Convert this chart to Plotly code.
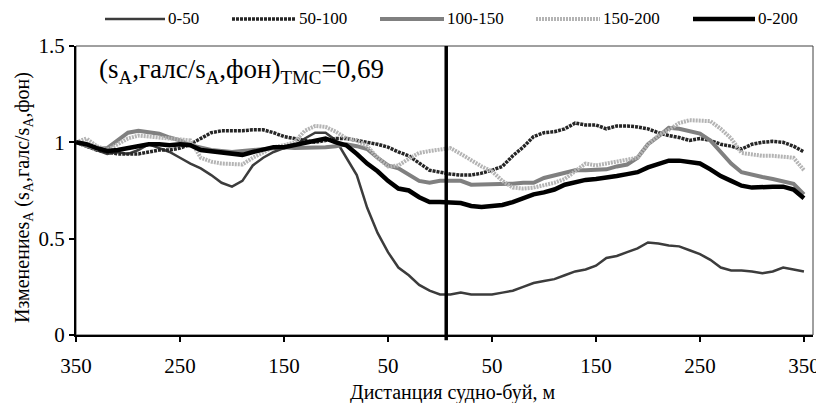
import plotly.graph_objects as go

# ---- data ----
distance = [-350, -340, -330, -320, -310, -300, -290, -280, -270, -260,
            -250, -240, -230, -220, -210, -200, -190, -180, -170, -160,
            -150, -140, -130, -120, -110, -100, -90, -80, -70, -60,
            -50, -40, -30, -20, -10, 0, 10, 20, 30, 40,
            50, 60, 70, 80, 90, 100, 110, 120, 130, 140,
            150, 160, 170, 180, 190, 200, 210, 220, 230, 240,
            250, 260, 270, 280, 290, 300, 310, 320, 330, 340, 350]

s_0_50 = [1.00, 0.98, 0.96, 0.94, 0.95, 0.94, 0.96, 0.99, 0.97, 0.95,
          0.92, 0.89, 0.865, 0.83, 0.79, 0.77, 0.80, 0.88, 0.92, 0.95,
          0.97, 0.98, 1.02, 1.05, 1.05, 1.01, 0.92, 0.83, 0.66, 0.53,
          0.43, 0.35, 0.31, 0.26, 0.23, 0.21, 0.21, 0.22, 0.21, 0.21,
          0.21, 0.22, 0.23, 0.25, 0.27, 0.28, 0.29, 0.31, 0.33, 0.34,
          0.36, 0.40, 0.41, 0.43, 0.45, 0.48, 0.475, 0.465, 0.46, 0.44,
          0.42, 0.39, 0.35, 0.335, 0.335, 0.33, 0.32, 0.33, 0.35, 0.34, 0.33]

s_50_100 = [1.00, 0.98, 0.96, 0.95, 0.94, 0.94, 0.94, 0.95, 0.96, 0.96,
            0.97, 0.99, 1.02, 1.05, 1.06, 1.06, 1.06, 1.065, 1.065, 1.05,
            1.03, 1.02, 1.01, 1.00, 1.01, 1.02, 1.02, 1.01, 1.00, 0.99,
            0.975, 0.95, 0.93, 0.89, 0.855, 0.845, 0.835, 0.83, 0.83, 0.84,
            0.855, 0.875, 0.93, 0.975, 1.03, 1.05, 1.055, 1.07, 1.10, 1.09,
            1.09, 1.07, 1.085, 1.085, 1.08, 1.07, 1.05, 1.035, 1.025, 1.01,
            1.02, 1.01, 0.99, 0.98, 0.965, 0.99, 1.00, 1.005, 1.00, 0.98, 0.95]

s_100_150 = [1.00, 0.98, 0.965, 0.97, 1.01, 1.05, 1.06, 1.05, 1.045, 1.025,
             1.01, 0.985, 0.97, 0.96, 0.955, 0.95, 0.955, 0.96, 0.965, 0.97,
             0.975, 0.97, 0.97, 0.975, 0.975, 0.98, 0.99, 0.98, 0.965, 0.92,
             0.88, 0.865, 0.83, 0.80, 0.79, 0.80, 0.80, 0.80, 0.78, 0.78,
             0.78, 0.78, 0.785, 0.79, 0.79, 0.815, 0.83, 0.845, 0.855, 0.855,
             0.855, 0.86, 0.875, 0.885, 0.92, 0.99, 1.03, 1.075, 1.07, 1.06,
             1.045, 1.01, 0.95, 0.89, 0.845, 0.83, 0.82, 0.81, 0.80, 0.785, 0.73]

s_150_200 = [1.00, 1.02, 0.98, 0.96, 0.99, 1.02, 1.035, 1.03, 1.03, 1.025,
             1.02, 1.01, 0.92, 0.90, 0.89, 0.89, 0.885, 0.92, 0.95, 0.975,
             0.985, 1.00, 1.06, 1.085, 1.08, 1.055, 1.02, 1.01, 0.98, 0.92,
             0.875, 0.88, 0.915, 0.945, 0.955, 0.965, 0.97, 0.94, 0.905, 0.875,
             0.85, 0.80, 0.765, 0.76, 0.765, 0.775, 0.79, 0.81, 0.85, 0.89,
             0.88, 0.89, 0.895, 0.905, 0.92, 0.99, 1.035, 1.065, 1.10, 1.115,
             1.115, 1.11, 1.07, 1.02, 0.945, 0.935, 0.93, 0.93, 0.925, 0.92, 0.855]

s_0_200 = [1.00, 0.99, 0.97, 0.955, 0.96, 0.97, 0.98, 0.99, 0.99, 0.985,
           0.99, 0.985, 0.96, 0.955, 0.945, 0.94, 0.935, 0.95, 0.965, 0.975,
           0.975, 0.985, 1.00, 1.01, 1.02, 1.00, 0.985, 0.94, 0.89, 0.85,
           0.80, 0.76, 0.75, 0.715, 0.69, 0.69, 0.685, 0.685, 0.67, 0.665,
           0.67, 0.675, 0.69, 0.71, 0.73, 0.74, 0.755, 0.78, 0.795, 0.805,
           0.81, 0.815, 0.825, 0.835, 0.845, 0.87, 0.885, 0.905, 0.905, 0.895,
           0.89, 0.86, 0.825, 0.80, 0.775, 0.765, 0.77, 0.77, 0.77, 0.755, 0.71]

series_names = ["0-50", "50-100", "100-150", "150-200", "0-200"]
x_tick_vals = [-350, -250, -150, -50, 50, 150, 250, 350]
x_tick_text = ["350", "250", "150", "50", "50", "150", "250", "350"]
y_tick_vals = [0, 0.5, 1, 1.5]
y_tick_text = ["0", "0.5", "1", "1.5"]
buoy_x = 6
x_title = "Дистанция судно-буй, м"
y_title = "Изменениеs<sub>A</sub> (s<sub>A</sub>,галс/s<sub>A</sub>,фон)"
tmc_label = "(s<sub>A</sub>,галс/s<sub>A</sub>,фон)<sub>TMC</sub>=0,69"

# ---- figure ----
FONT = "Liberation Serif, Times New Roman, serif"
OFF = 8                      # default page body margin of the html page
W, H = 824 - OFF, 403 - OFF
ML, MR, MT, MB = 76 - OFF, 11, 46 - OFF, 68
PW, PH = W - ML - MR, H - MT - MB


def px_x(p):   # window pixel -> paper x
    return (p - OFF - ML) / PW


def px_y(p):   # window pixel -> paper y
    return (H - MB - (p - OFF)) / PH


styles = [
    dict(color="#3c3c3c", width=2.5),
    dict(color="#262626", width=3.5, dash="3px,1px"),
    dict(color="#808080", width=4),
    dict(color="#b4b4b4", width=4, dash="2px,1px"),
    dict(color="#000000", width=4.5),
]
values = [s_0_50, s_50_100, s_100_150, s_150_200, s_0_200]

fig = go.Figure()
for name, vals, st in zip(series_names, values, styles):
    fig.add_trace(go.Scatter(x=distance, y=vals, mode="lines", name=name,
                             line=st, showlegend=False))

# buoy position marker
fig.add_shape(type="line", xref="x", yref="paper", x0=buoy_x, x1=buoy_x,
              y0=-0.018, y1=1.0, line=dict(color="black", width=3.5))
# plot frame (top / right)
fig.add_shape(type="rect", xref="paper", yref="paper", x0=0, x1=1, y0=0, y1=1,
              line=dict(color="#404040", width=1), layer="below")

# legend drawn across the top (line sample + label)
legend_px = [(105, 165), (232, 296), (380, 444), (536, 600), (693, 755)]
leg_y = px_y(19)
for (a, b), name, st in zip(legend_px, series_names, styles):
    fig.add_shape(type="line", xref="paper", yref="paper",
                  x0=px_x(a), x1=px_x(b), y0=leg_y, y1=leg_y, line=st)
    fig.add_annotation(text=name, xref="paper", yref="paper",
                       x=px_x(b + 1), y=leg_y, xanchor="left",
                       yanchor="middle", showarrow=False,
                       font=dict(family=FONT, size=17, color="black"))

fig.add_annotation(text=tmc_label, xref="paper", yref="paper",
                   x=px_x(97), y=px_y(71),
                   xanchor="left", yanchor="middle", showarrow=False,
                   font=dict(family=FONT, size=27, color="black"))

# axis titles
fig.add_annotation(text=x_title, xref="paper", yref="paper",
                   x=px_x(452), y=px_y(392), xanchor="center", yanchor="middle",
                   showarrow=False, font=dict(family=FONT, size=20, color="black"))
fig.add_annotation(text=y_title, xref="paper", yref="paper", textangle=-90,
                   x=px_x(23), y=px_y(198), xanchor="center", yanchor="middle",
                   showarrow=False, font=dict(family=FONT, size=20, color="black"))

fig.update_layout(
    width=W, height=H,
    margin=dict(l=ML, r=MR, t=MT, b=MB, autoexpand=False),
    paper_bgcolor="white", plot_bgcolor="white",
    font=dict(family=FONT, color="black", size=21),
    showlegend=False,
    xaxis=dict(range=[-350, 358.7], tickvals=x_tick_vals, ticktext=x_tick_text,
               automargin=False, ticklabelstandoff=6,
               showgrid=False, zeroline=False, showline=True, linecolor="black",
               linewidth=2, ticks="outside", ticklen=5, tickcolor="black",
               tickwidth=1.5, tickfont=dict(family=FONT, size=21)),
    yaxis=dict(range=[0, 1.5], tickvals=y_tick_vals, ticktext=y_tick_text,
               automargin=False,
               showgrid=False, zeroline=False, showline=True, linecolor="black",
               linewidth=2, ticks="outside", ticklen=5, tickcolor="black",
               tickwidth=1.5, tickfont=dict(family=FONT, size=21)),
)

fig.write_html("out.html")
